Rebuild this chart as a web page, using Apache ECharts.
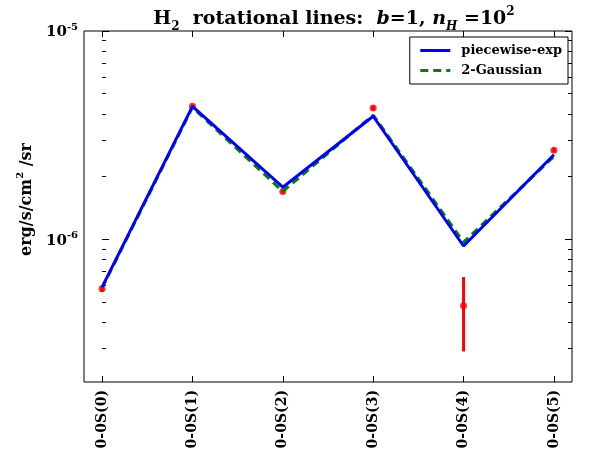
<!DOCTYPE html>
<html>
<head>
<meta charset="utf-8">
<script src="https://cdn.jsdelivr.net/npm/echarts@6/dist/echarts.min.js"></script>
<style>html,body{margin:0;padding:0;background:#fff}#c{width:595px;height:459px}</style>
</head>
<body>
<div id="c"></div>
<script>
const categories = ['0-0S(0)', '0-0S(1)', '0-0S(2)', '0-0S(3)', '0-0S(4)', '0-0S(5)'];
const observed = [5.8e-7, 4.35e-6, 1.70e-6, 4.27e-6, 4.8e-7, 2.68e-6];
const errLow  = [5.6e-7, 4.25e-6, 1.66e-6, 4.17e-6, 2.9e-7, 2.62e-6];
const errHigh = [6.0e-7, 4.45e-6, 1.74e-6, 4.37e-6, 6.6e-7, 2.74e-6];
const piecewise = [5.9e-7, 4.35e-6, 1.78e-6, 3.9e-6, 9.3e-7, 2.55e-6];
const gaussian2 = [5.85e-7, 4.3e-6, 1.70e-6, 3.95e-6, 9.7e-7, 2.5e-6];
const yMajorTicks = [1e-6, 1e-5];
const yMinorTicks = [3e-7, 4e-7, 5e-7, 6e-7, 7e-7, 8e-7, 9e-7, 2e-6, 3e-6, 4e-6, 5e-6, 6e-6, 7e-6, 8e-6, 9e-6];
const yMin = 2.07e-7, yMax = 1e-5;
const xMin = -0.2, xMax = 5.2;

const FONT = 'DejaVu Serif';
const lg = v => Math.log10(v);
const xIdx = categories.map((c, i) => i);
const toPts = arr => arr.map((v, i) => [i, lg(v)]);

const chart = echarts.init(document.getElementById('c'), null, {renderer: 'canvas'});

function yAxisDef(pos, ticks, len, showLabel) {
  return {
    type: 'value', position: pos, min: lg(yMin), max: lg(yMax),
    splitLine: {show: false}, axisLine: {show: false},
    axisTick: {show: true, inside: true, length: len, customValues: ticks.map(lg), lineStyle: {color: '#000', width: 1}},
    axisLabel: showLabel ? {
      show: true, customValues: ticks.map(lg), margin: 6,
      formatter: v => '{b|10}{s|' + Math.round(v) + '}',
      rich: {b: {fontFamily: FONT, fontWeight: 'bold', fontSize: 15, color: '#000', verticalAlign: 'bottom', lineHeight: 18},
             s: {fontFamily: FONT, fontWeight: 'bold', fontSize: 10, color: '#000', verticalAlign: 'top', lineHeight: 10}}
    } : {show: false}
  };
}

const option = {
  animation: false,
  backgroundColor: '#fff',
  title: {
    text: '{b|H}{sub|2}{b|  rotational lines:  }{i|b}{b|=1, }{i|n}{subi|H}{b| =10}{sup|2}',
    left: 329, top: 1, textAlign: 'center',
    textStyle: {
      rich: {
        b: {fontFamily: FONT, fontWeight: 'bold', fontSize: 19, color: '#000', lineHeight: 27, verticalAlign: 'middle'},
        i: {fontFamily: FONT, fontStyle: 'italic', fontSize: 19, color: '#000', lineHeight: 27, verticalAlign: 'middle'},
        sub: {fontFamily: FONT, fontSize: 12, color: '#000', lineHeight: 12, verticalAlign: 'bottom'},
        subi: {fontFamily: FONT, fontStyle: 'italic', fontSize: 12, color: '#000', lineHeight: 12, verticalAlign: 'bottom'},
        sup: {fontFamily: FONT, fontWeight: 'bold', fontSize: 12, color: '#000', lineHeight: 12, verticalAlign: 'top'}
      }
    }
  },
  grid: {left: 84, right: 23, top: 31, bottom: 77, show: true, borderColor: '#000', borderWidth: 1, backgroundColor: 'transparent'},
  legend: {
    show: true, orient: 'vertical', right: 27, top: 37,
    data: ['piecewise-exp', '2-Gaussian'],
    itemWidth: 30, itemHeight: 12, itemGap: 7,
    padding: [7, 6, 7, 9],
    itemStyle: {opacity: 0},
    lineStyle: {width: 3},
    borderColor: '#000', borderWidth: 1, backgroundColor: '#fff',
    textStyle: {fontFamily: FONT, fontWeight: 'bold', fontSize: 13, color: '#000', padding: [0, 0, 0, 6]}
  },
  xAxis: [
    {
      type: 'value', position: 'bottom', min: xMin, max: xMax,
      splitLine: {show: false}, axisLine: {show: false},
      axisTick: {show: true, inside: true, length: 6, customValues: xIdx, lineStyle: {color: '#000'}},
      axisLabel: {show: true, customValues: xIdx, rotate: 90, margin: 8,
        formatter: v => categories[Math.round(v)],
        fontFamily: FONT, fontWeight: 'bold', fontSize: 14, color: '#000'}
    },
    {
      type: 'value', position: 'top', min: xMin, max: xMax,
      splitLine: {show: false}, axisLine: {show: false},
      axisTick: {show: true, inside: true, length: 6, customValues: xIdx, lineStyle: {color: '#000'}},
      axisLabel: {show: false}
    }
  ],
  yAxis: [
    Object.assign(yAxisDef('left', yMajorTicks, 7, true), {
      name: '{b|erg/s/cm}{s|2}{b| /sr}', nameLocation: 'middle', nameRotate: 90, nameGap: 40,
      nameTextStyle: {padding: [0, 0, 0, 14], rich: {
        b: {fontFamily: FONT, fontWeight: 'bold', fontSize: 16, color: '#000', lineHeight: 20, verticalAlign: 'bottom'},
        s: {fontFamily: FONT, fontWeight: 'bold', fontSize: 10, color: '#000', lineHeight: 10, verticalAlign: 'top'}
      }}
    }),
    yAxisDef('left', yMinorTicks, 4, false),
    yAxisDef('right', yMajorTicks, 7, false),
    yAxisDef('right', yMinorTicks, 4, false)
  ],
  series: [
    {
      type: 'custom', name: 'errorbar', xAxisIndex: 0, yAxisIndex: 0, z: 2,
      data: xIdx.map(i => [i, lg(errLow[i]), lg(errHigh[i])]),
      renderItem: (params, api) => {
        const lo = api.coord([api.value(0), api.value(1)]);
        const hi = api.coord([api.value(0), api.value(2)]);
        return {type: 'line', shape: {x1: lo[0], y1: lo[1], x2: hi[0], y2: hi[1]}, style: {stroke: '#ff0000', lineWidth: 3}};
      }
    },
    {
      type: 'scatter', name: 'observed', xAxisIndex: 0, yAxisIndex: 0, z: 2,
      symbol: 'circle', symbolSize: 7, itemStyle: {color: '#ff0000'},
      data: toPts(observed)
    },
    {
      type: 'line', name: '2-Gaussian', xAxisIndex: 0, yAxisIndex: 0, z: 3,
      symbol: 'none', data: toPts(gaussian2),
      lineStyle: {color: '#008000', width: 3, type: [8, 5]}, itemStyle: {color: '#008000'}
    },
    {
      type: 'line', name: 'piecewise-exp', xAxisIndex: 0, yAxisIndex: 0, z: 4,
      symbol: 'none', data: toPts(piecewise),
      lineStyle: {color: '#0000ff', width: 3}, itemStyle: {color: '#0000ff'}
    }
  ]
};
chart.setOption(option);
</script>
</body>
</html>
